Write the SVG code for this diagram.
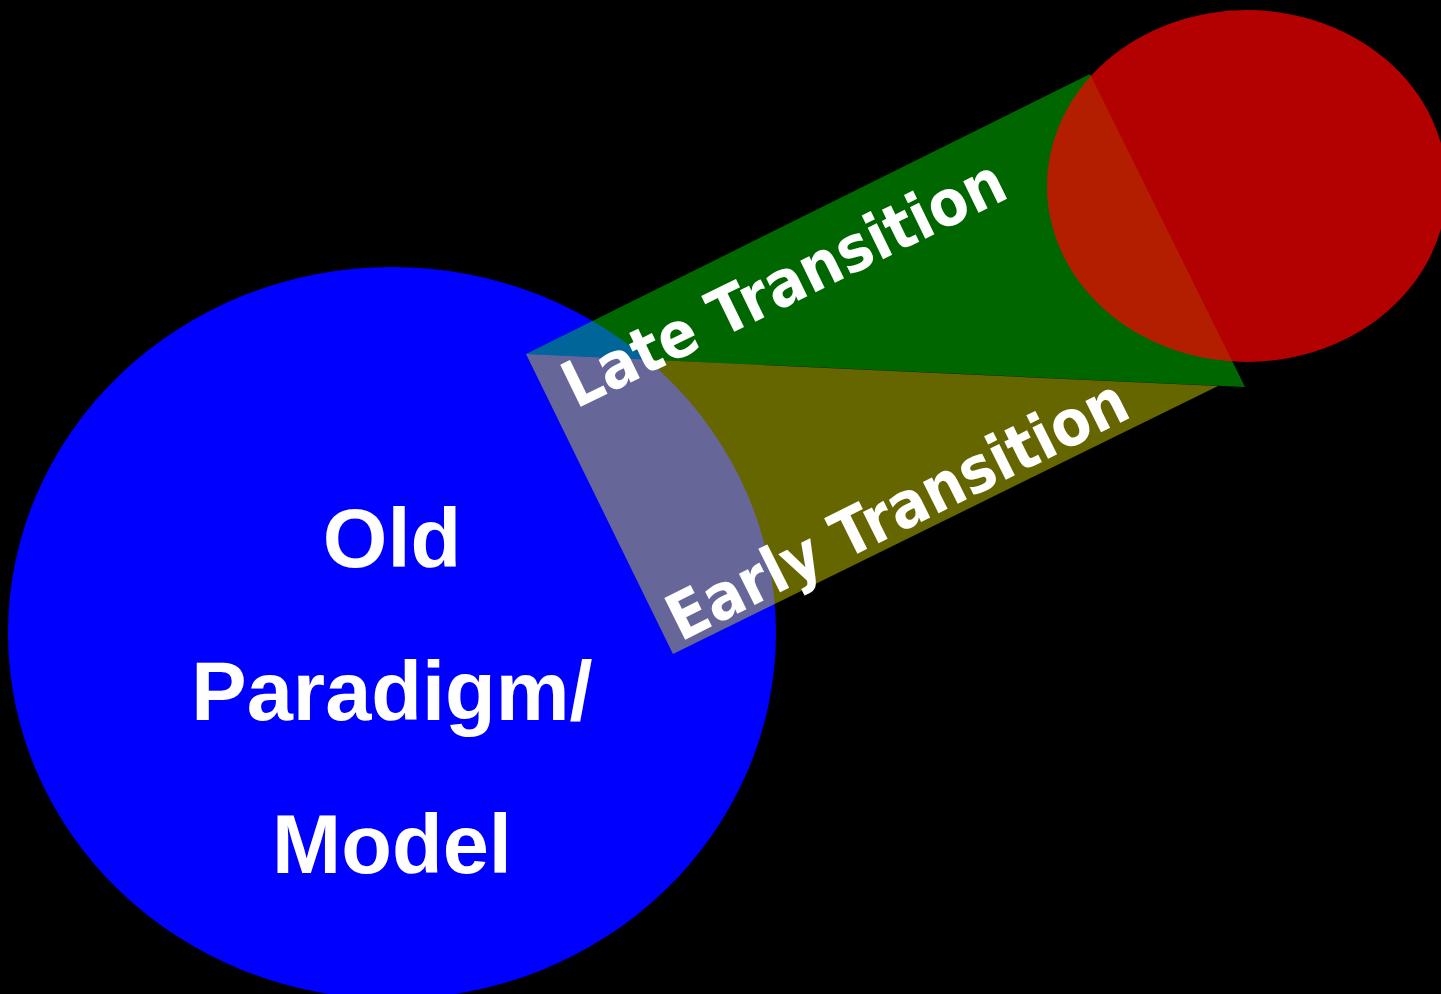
<svg xmlns="http://www.w3.org/2000/svg" width="1441" height="994" viewBox="0 0 1441 994">
<style>
.lbl{fill:#ffffff;font-family:"DejaVu Sans",Verdana,sans-serif;font-weight:bold;font-size:64px}
.main{fill:#ffffff;font-family:"Liberation Sans",Arial,sans-serif;font-weight:bold;font-size:83px;text-anchor:middle}
</style>
<rect x="0" y="0" width="1441" height="994" fill="#000000"/>
<g id="old-paradigm">
<ellipse cx="392" cy="633" rx="384" ry="366" fill="#0000ff"/>
</g>
<g id="connectors">
<polygon id="late-transition" points="526,354 1090,74 1245,387" fill="#00ff00" fill-opacity="0.4"/>
<polygon id="early-transition" points="526,354 1218,386 673,654" fill="#ffff00" fill-opacity="0.4"/>
</g>
<g id="new-paradigm">
<ellipse cx="1247" cy="186" rx="200" ry="176" fill="#ff0000" fill-opacity="0.7"/>
</g>
<g id="labels">
<text class="main" x="392" y="567">Old</text>
<text class="main" x="392" y="720">Paradigm/</text>
<text class="main" x="392" y="873">Model</text>
<text class="lbl" transform="translate(576,409) rotate(-26)" textLength="484" lengthAdjust="spacingAndGlyphs">Late Transition</text>
<text class="lbl" transform="translate(680.5,642) rotate(-26.5)" textLength="506" lengthAdjust="spacingAndGlyphs">Early Transition</text>
</g>
</svg>
